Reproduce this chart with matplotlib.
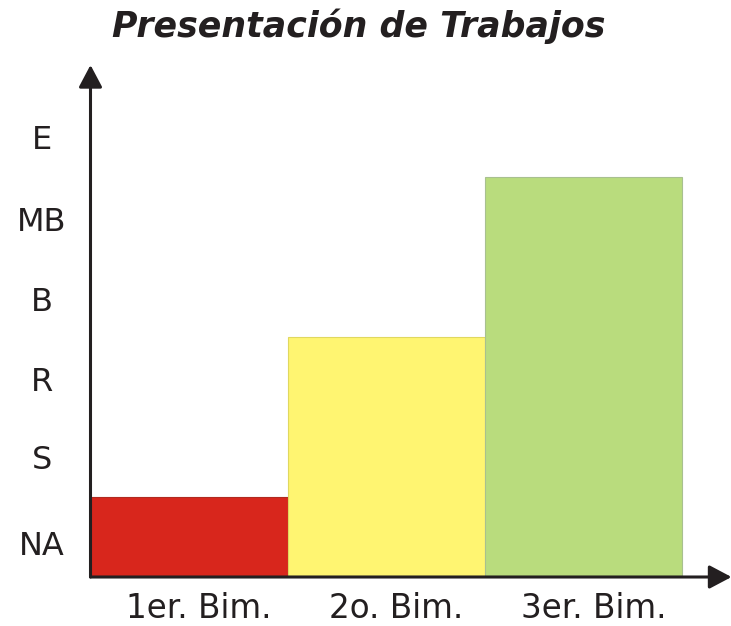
import matplotlib
matplotlib.use('Agg')
import matplotlib.pyplot as plt

# grades per bimester
periods = ['1er. Bim.', '2o. Bim.', '3er. Bim.']
scores = [1, 3, 5]
bar_colors = ['#d8261c', '#fff571', '#b9dc7d']
edge_colors = ['#b02a20', '#e0d860', '#a8c090']

grade_labels = ['NA', 'S', 'R', 'B', 'MB', 'E']
grade_pos = [0.42, 1.5, 2.48, 3.48, 4.48, 5.5]

W, H = 731, 626
fig = plt.figure(figsize=(W / 100, H / 100), dpi=100)
ax = fig.add_axes([90.5 / W, 49 / H, 641 / W, 512 / H])

x = list(range(len(periods)))
ax.bar(x, scores, width=1, align='edge', color=bar_colors,
       edgecolor=edge_colors, linewidth=0.8, zorder=2)

ax.set_xlim(0, 3.25)
ax.set_ylim(0, 6.4)

for s in ax.spines.values():
    s.set_visible(False)

txt = '#231f20'
ax.set_xticks([i + 0.55 for i in x])
ax.set_xticklabels(periods, fontsize=23.5, color=txt)
ax.set_yticks(grade_pos)
ax.set_yticklabels(grade_labels, fontsize=23, color=txt, ha='center')
ax.tick_params(axis='x', length=0, pad=11)
ax.tick_params(axis='y', length=0, pad=35)

# axes with arrows
arrow = dict(arrowstyle='-|>,head_length=0.68,head_width=0.36', color='#231f20',
             lw=2.2, mutation_scale=20, shrinkA=0, shrinkB=0)
ax.annotate('', xy=(3.25, 0), xytext=(0, 0), arrowprops=arrow,
            annotation_clip=False, zorder=3)
ax.annotate('', xy=(0, 6.4), xytext=(0, 0), arrowprops=arrow,
            annotation_clip=False, zorder=3)

fig.text(359 / W, 1 - 37 / H, 'Presentación de Trabajos', ha='center',
         va='baseline', fontsize=25, fontweight='bold', fontstyle='italic',
         color=txt)

fig.savefig('out.png', dpi=100)
